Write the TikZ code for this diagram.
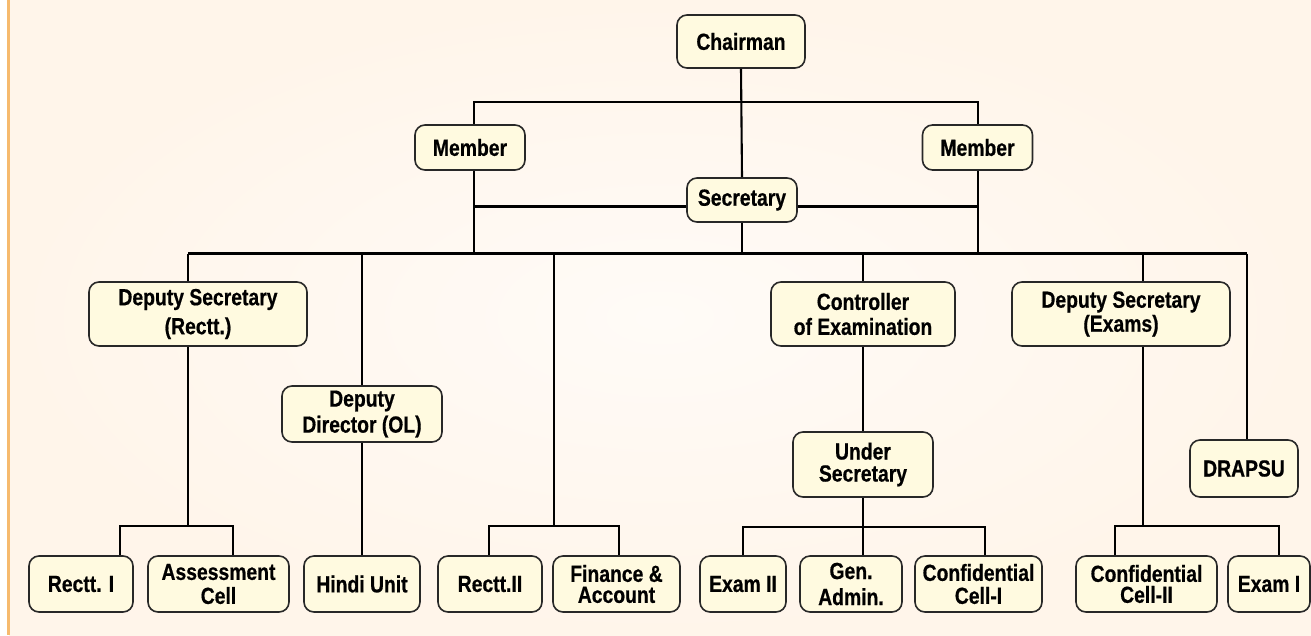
\documentclass[tikz,border=0pt]{standalone}
\usepackage{fontspec}
\setmainfont{Liberation Sans}[FakeStretch=0.83,BoldFeatures={FakeBold=0.6}]
\usetikzlibrary{calc}
\definecolor{bgpeach}{RGB}{255,245,234}
\definecolor{bglight}{RGB}{255,251,247}
\definecolor{edgeorange}{RGB}{246,186,110}
\definecolor{boxfill}{RGB}{255,250,224}
\definecolor{boxline}{RGB}{40,40,40}
\tikzset{
  orgbox/.style={draw=boxline, line width=1.6pt, fill=boxfill, rounded corners=10pt,
    inner sep=0pt, align=center, font=\bfseries\fontsize{23.3}{24}\selectfont},
  link/.style={draw=black, line width=2.1pt}
}
\begin{document}
\begin{tikzpicture}[x=1pt,y=-1pt]
\useasboundingbox (0,0) rectangle (1311,635);
% background
\fill[white] (0,0) rectangle (1311,635);
\shade[inner color=bglight, outer color=bgpeach] (9,0) rectangle (1311,635);
\fill[edgeorange] (7,0) rectangle (9.5,635);

% junction coordinates
\coordinate (tL) at (474,102);
\coordinate (tR) at (978,102);
\coordinate (sL) at (474,206.5);
\coordinate (sR) at (978,206.5);
\coordinate (mL) at (188,253.5);
\coordinate (mR) at (1247,253.5);
\coordinate (mF) at (554,253.5);
\coordinate (bDs) at (188,526);
\coordinate (bF) at (554,526);
\coordinate (bU) at (863,527);
\coordinate (bDe) at (1143,526);

% nodes
\node[orgbox, minimum width=128pt, minimum height=53pt] (chair) at (741,41.5) {Chairman};
\node[orgbox, minimum width=110pt, minimum height=45pt] (memL) at (470,147.5) {Member};
\node[orgbox, minimum width=110pt, minimum height=45pt] (memR) at (977.5,147.5) {Member};
\node[orgbox, minimum width=110pt, minimum height=44pt] (sec) at (742,200) {Secretary};

\node[orgbox, minimum width=218pt, minimum height=64pt] (dsr) at (198,314) {Deputy Secretary\\[5pt](Rectt.)};
\node[orgbox, minimum width=160pt, minimum height=56pt] (ddol) at (362,414) {Deputy\\[2pt]Director (OL)};
\node[orgbox, minimum width=184pt, minimum height=64pt] (coe) at (863,314) {Controller\\[1pt]of Examination};
\node[orgbox, minimum width=218pt, minimum height=64pt] (dse) at (1121,314) {Deputy Secretary\\(Exams)};
\node[orgbox, minimum width=140pt, minimum height=65pt] (us) at (863,464.5) {Under\\[-2pt]Secretary};
\node[orgbox, minimum width=108pt, minimum height=57pt] (drapsu) at (1244,468.5) {DRAPSU};

\node[orgbox, minimum width=104pt, minimum height=56pt] (r1) at (81,584) {Rectt. I};
\node[orgbox, minimum width=141pt, minimum height=56pt] (ac) at (218.5,584) {Assessment\\Cell};
\node[orgbox, minimum width=116pt, minimum height=56pt] (hu) at (362,584) {Hindi Unit};
\node[orgbox, minimum width=104pt, minimum height=56pt] (r2) at (490,584) {Rectt.II};
\node[orgbox, minimum width=127pt, minimum height=56pt] (fa) at (616.5,584) {Finance \&\\[-3pt]Account};
\node[orgbox, minimum width=86pt, minimum height=56pt] (e2) at (743,584) {Exam II};
\node[orgbox, minimum width=102pt, minimum height=56pt] (ga) at (851,584) {Gen.\\[2pt]Admin.};
\node[orgbox, minimum width=127pt, minimum height=56pt] (cc1) at (978.5,584) {Confidential\\[-1pt]Cell-I};
\node[orgbox, minimum width=141pt, minimum height=56pt] (cc2) at (1146.5,584) {Confidential\\[-3pt]Cell-II};
\node[orgbox, minimum width=82pt, minimum height=56pt] (e1) at (1269,584) {Exam I};

% connectors
\draw[link] (chair.south) -- (sec.north);
\draw[link] (memL.north -| tL) -- (tL) -- (tR) -- (memR.north -| tR);
\draw[link] (memL.south -| tL) -- (tL |- mL);
\draw[link] (memR.south -| tR) -- (tR |- mR);
\draw[link] (sL) -- (sec.west |- sL);
\draw[link] (sec.east |- sR) -- (sR);
\draw[link] (sec.south) -- (sec.south |- mL);
\draw[link] (mL) -- (mR);

\draw[link] (mL) -- (dsr.north -| mL);
\draw[link] (ddol.north |- mL) -- (ddol.north);
\draw[link] (mF) -- (bF);
\draw[link] (coe.north |- mL) -- (coe.north);
\draw[link] (bDe |- mL) -- (dse.north -| bDe);
\draw[link] (mR) -- (drapsu.north -| mR);

\draw[link] (dsr.south -| bDs) -- (bDs);
\draw[link] (r1.north -| 120,0) |- (bDs) -| (ac.north -| 233,0);
\draw[link] (ddol.south) -- (hu.north);
\draw[link] (r2.north -| 489,0) |- (bF) -| (fa.north -| 619,0);
\draw[link] (coe.south) -- (us.north);
\draw[link] (us.south) -- (ga.north -| bU);
\draw[link] (e2.north) |- (bU) -| (cc1.north -| 985,0);
\draw[link] (dse.south -| bDe) -- (bDe);
\draw[link] (cc2.north -| 1115,0) |- (bDe) -| (e1.north -| 1279,0);
\end{tikzpicture}
\end{document}
